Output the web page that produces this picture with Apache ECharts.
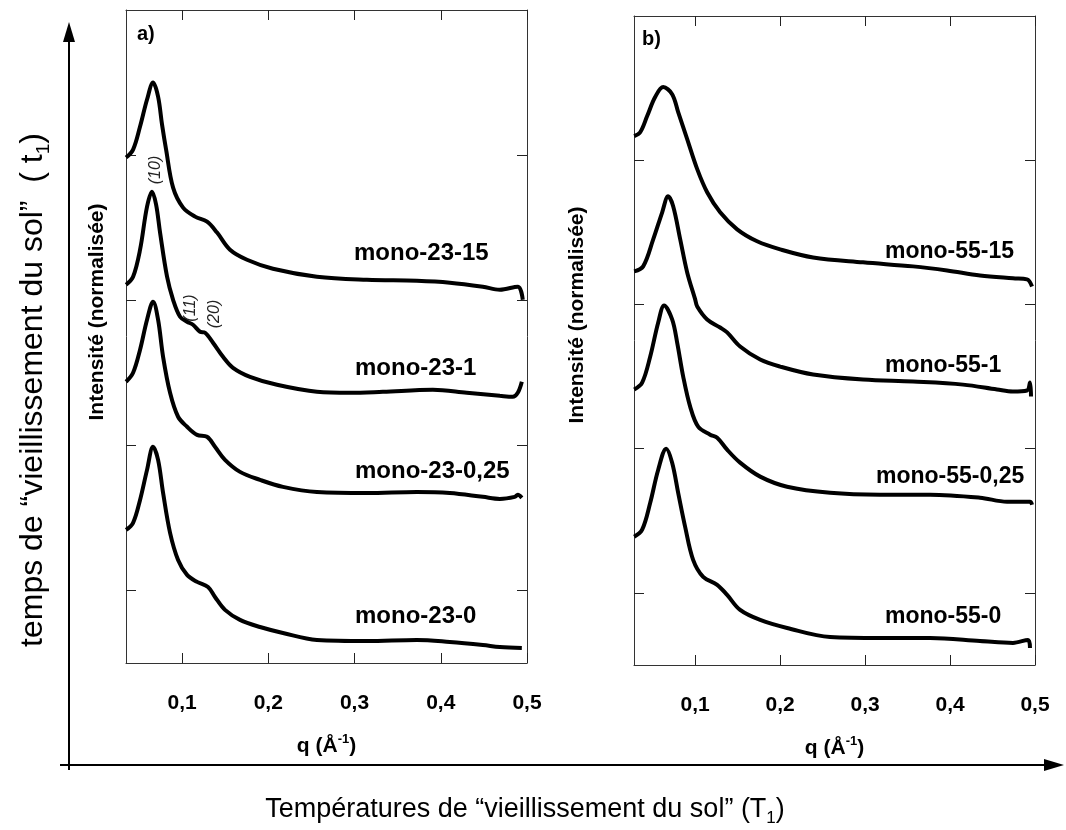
<!DOCTYPE html>
<html><head><meta charset="utf-8">
<script src="https://cdn.jsdelivr.net/npm/echarts@6/dist/echarts.min.js"></script>
<style>html,body{margin:0;padding:0;background:#fff}#c{width:1066px;height:830px}</style>
</head><body><div id="c"></div>
<script>
// ---- tick definitions ----
const xTicks = [0.1, 0.2, 0.3, 0.4, 0.5];
const xTickLabels = ['0,1', '0,2', '0,3', '0,4', '0,5'];
const yTicks = [0.5, 1.5, 2.5, 3.5];

// ---- panel a) (offset, normalised intensity vs q) ----
const namesA = ['mono-23-15', 'mono-23-1', 'mono-23-0,25', 'mono-23-0'];
const qA15 = [0.0351,0.0432,0.0513,0.0594,0.0664,0.0722,0.0768,0.0815,0.0896,0.1012,0.1151,0.129,0.1406,0.1556,0.1753,0.2054,0.2564,0.3144,0.3723,0.4105,0.4488,0.4685,0.4893,0.4951];
const iA15 = [3.483,3.538,3.697,3.883,4.0,3.903,3.710,3.538,3.276,3.138,3.076,3.041,2.966,2.848,2.779,2.717,2.662,2.641,2.634,2.621,2.593,2.572,2.593,2.503];
const qA1 = [0.0351,0.0432,0.0513,0.0594,0.0652,0.0699,0.0745,0.0826,0.0896,0.0977,0.1058,0.1127,0.1209,0.1267,0.1359,0.1475,0.1591,0.1788,0.2101,0.2564,0.2947,0.3329,0.3908,0.4302,0.4685,0.4835,0.4893,0.494];
const iA1 = [2.607,2.662,2.848,3.145,3.248,3.159,2.966,2.662,2.503,2.386,2.352,2.331,2.283,2.276,2.207,2.110,2.034,1.972,1.917,1.869,1.862,1.869,1.883,1.862,1.841,1.834,1.862,1.938];
const qA025 = [0.0351,0.0432,0.0513,0.0594,0.0664,0.0722,0.078,0.0861,0.0954,0.1058,0.1174,0.129,0.1382,0.1498,0.1672,0.1904,0.217,0.2564,0.3144,0.3723,0.4105,0.4488,0.4685,0.4858,0.4893,0.494];
const iA025 = [1.938,2.0,2.159,2.366,2.490,2.366,2.110,1.862,1.697,1.628,1.572,1.559,1.490,1.400,1.317,1.262,1.214,1.179,1.172,1.179,1.172,1.145,1.131,1.145,1.159,1.138];
const qA0 = [0.0351,0.0432,0.0513,0.0594,0.0664,0.0722,0.078,0.0861,0.0954,0.1058,0.1174,0.1301,0.1382,0.1498,0.1672,0.1904,0.217,0.2564,0.3144,0.3723,0.4105,0.4488,0.4685,0.494];
const iA0 = [0.917,0.966,1.124,1.331,1.490,1.400,1.172,0.897,0.710,0.607,0.559,0.524,0.455,0.366,0.297,0.248,0.207,0.159,0.152,0.159,0.145,0.124,0.110,0.103];

// ---- panel b) ----
const namesB = ['mono-55-15', 'mono-55-1', 'mono-55-0,25', 'mono-55-0'];
const qB15 = [0.0282,0.0353,0.0435,0.0529,0.0624,0.0729,0.08,0.0906,0.1024,0.1141,0.1294,0.1494,0.1729,0.2,0.2388,0.2976,0.3565,0.3965,0.4353,0.4741,0.4906,0.4965];
const iB15 = [3.667,3.694,3.806,3.938,4.007,3.958,3.833,3.646,3.438,3.278,3.139,3.021,2.938,2.882,2.826,2.792,2.764,2.736,2.701,2.681,2.674,2.625];
const qB1 = [0.0282,0.0388,0.0506,0.0612,0.0682,0.0741,0.0824,0.0906,0.1,0.1024,0.1141,0.1294,0.1376,0.1529,0.1765,0.2,0.2388,0.2976,0.3565,0.4153,0.4553,0.4741,0.4906,0.4941,0.4953];
const iB1 = [2.729,2.764,2.951,3.139,3.25,3.181,2.951,2.722,2.535,2.486,2.396,2.340,2.306,2.208,2.118,2.069,2.014,1.979,1.965,1.944,1.910,1.896,1.903,1.958,1.861];
const qB025 = [0.0282,0.0376,0.0471,0.0565,0.0635,0.0729,0.0788,0.0859,0.0941,0.1035,0.1176,0.1259,0.1376,0.1529,0.1765,0.2082,0.2588,0.3176,0.3765,0.4353,0.4671,0.4941,0.4965];
const iB025 = [1.910,1.958,2.139,2.375,2.493,2.396,2.236,2.0,1.792,1.653,1.597,1.576,1.493,1.403,1.306,1.236,1.194,1.181,1.181,1.160,1.132,1.132,1.111];
const qB0 = [0.0282,0.0376,0.0471,0.0565,0.0659,0.0729,0.08,0.0882,0.0976,0.1094,0.1259,0.1376,0.1529,0.1765,0.2082,0.2588,0.3176,0.3765,0.4353,0.4741,0.4918,0.4941];
const iB0 = [0.889,0.938,1.125,1.354,1.5,1.403,1.194,0.958,0.729,0.611,0.556,0.486,0.382,0.3125,0.257,0.194,0.1875,0.1875,0.167,0.153,0.174,0.118];

const zip = (q, v) => q.map((x, i) => [x, v[i]]);
const curvesA = [zip(qA15, iA15), zip(qA1, iA1), zip(qA025, iA025), zip(qA0, iA0)];
const curvesB = [zip(qB15, iB15), zip(qB1, iB1), zip(qB025, iB025), zip(qB0, iB0)];

const FONT = 'Liberation Sans, Arial, sans-serif';
const frame = { show: true, onZero: false, lineStyle: { color: '#333', width: 1 } };
const tickIn = { show: true, inside: true, length: 10, lineStyle: { color: '#222', width: 1 } };

function xAx(grid, min, pos, labels) {
  return {
    type: 'value', gridIndex: grid, position: pos, min: min, max: 0.5,
    axisLine: frame, splitLine: { show: false },
    axisTick: Object.assign({ customValues: xTicks }, tickIn),
    axisLabel: labels ? {
      show: true, customValues: xTicks, margin: 30,
      formatter: v => xTickLabels[xTicks.findIndex(t => Math.abs(t - v) < 1e-9)] || '',
      fontFamily: FONT, fontWeight: 'bold', fontSize: 21, color: '#000'
    } : { show: false },
    name: labels ? '{b|q (Å}{s|-1}{b|)}' : '',
    nameLocation: 'middle', nameGap: 70,
    nameTextStyle: { rich: {
      b: { fontFamily: FONT, fontWeight: 'bold', fontSize: 21, color: '#000', lineHeight: 26 },
      s: { fontFamily: FONT, fontWeight: 'bold', fontSize: 13, color: '#000', lineHeight: 12, verticalAlign: 'top' }
    } }
  };
}
function yAx(grid, pos) {
  return {
    type: 'value', gridIndex: grid, position: pos, min: 0, max: 4.5,
    axisLine: frame, splitLine: { show: false },
    axisTick: Object.assign({ customValues: yTicks }, tickIn),
    axisLabel: { show: false }
  };
}

const series = [];
curvesA.forEach((d, i) => series.push({
  name: namesA[i], type: 'line', xAxisIndex: 0, yAxisIndex: 0, data: d,
  showSymbol: false, smooth: 0.35, lineStyle: { color: '#000', width: 4 }, silent: true
}));
curvesB.forEach((d, i) => series.push({
  name: namesB[i], type: 'line', xAxisIndex: 2, yAxisIndex: 2, data: d,
  showSymbol: false, smooth: 0.35, lineStyle: { color: '#000', width: 4 }, silent: true
}));

const labelPosA = [[354, 253], [355, 368], [355, 471], [355, 616]];
const labelPosB = [[885, 252], [885, 366], [876, 477], [885, 617]];

const graphics = [];
namesA.forEach((n, i) => graphics.push({ type: 'text', x: labelPosA[i][0], y: labelPosA[i][1],
  style: { text: n, font: 'bold 24px ' + FONT, fill: '#000', textVerticalAlign: 'middle' } }));
namesB.forEach((n, i) => graphics.push({ type: 'text', x: labelPosB[i][0], y: labelPosB[i][1],
  style: { text: n, font: 'bold 23px ' + FONT, fill: '#000', textVerticalAlign: 'middle' } }));

// panel letters
graphics.push({ type: 'text', x: 137, y: 34, style: { text: 'a)', font: 'bold 20px ' + FONT, fill: '#000', textVerticalAlign: 'middle' } });
graphics.push({ type: 'text', x: 642, y: 39, style: { text: 'b)', font: 'bold 20px ' + FONT, fill: '#000', textVerticalAlign: 'middle' } });

// Miller indices
const millers = [['(10)', 156, 170], ['(11)', 191, 308], ['(20)', 215, 314]];
millers.forEach(m => graphics.push({ type: 'text', x: m[1], y: m[2], rotation: Math.PI / 2,
  style: { text: m[0], font: 'italic 16px ' + FONT, fill: '#222', textAlign: 'center', textVerticalAlign: 'middle' } }));

// y axis titles
[[97, 312], [577, 315]].forEach(p => graphics.push({ type: 'text', x: p[0], y: p[1], rotation: Math.PI / 2,
  style: { text: 'Intensité (normalisée)', font: 'bold 21px ' + FONT, fill: '#000', textAlign: 'center', textVerticalAlign: 'middle' } }));

// big arrows
graphics.push({ type: 'line', shape: { x1: 69, y1: 770, x2: 69, y2: 38 }, style: { stroke: '#000', lineWidth: 2 } });
graphics.push({ type: 'polygon', shape: { points: [[69, 22], [63, 42], [75, 42]] }, style: { fill: '#000' } });
graphics.push({ type: 'line', shape: { x1: 60, y1: 765, x2: 1048, y2: 765 }, style: { stroke: '#000', lineWidth: 2 } });
graphics.push({ type: 'polygon', shape: { points: [[1064, 765], [1044, 759], [1044, 771]] }, style: { fill: '#000' } });

const vRich = {
  n: { fontFamily: FONT, fontSize: 32, color: '#000', lineHeight: 40 },
  sub: { fontFamily: FONT, fontSize: 19, color: '#000', lineHeight: 26, verticalAlign: 'bottom' }
};
const hRich = {
  n: { fontFamily: FONT, fontSize: 27, color: '#000', lineHeight: 34 },
  sub: { fontFamily: FONT, fontSize: 17, color: '#000', lineHeight: 22, verticalAlign: 'bottom' }
};
graphics.push({ type: 'text', x: 33, y: 390, rotation: Math.PI / 2,
  style: { text: '{n|temps de “vieillissement du sol”  ( t}{sub|1}{n|)}', rich: vRich, textAlign: 'center', textVerticalAlign: 'middle' } });
graphics.push({ type: 'text', x: 525, y: 810,
  style: { text: '{n|Températures de “vieillissement du sol” (T}{sub|1}{n|)}', rich: hRich, textAlign: 'center', textVerticalAlign: 'middle' } });

const chart = echarts.init(document.getElementById('c'), null, { renderer: 'canvas' });
chart.setOption({
  backgroundColor: '#fff',
  animation: false,
  grid: [
    { left: 126, right: 1066 - 527, top: 10, bottom: 830 - 663 },
    { left: 634, right: 1066 - 1035, top: 16, bottom: 830 - 665 }
  ],
  xAxis: [xAx(0, 0.035, 'bottom', true), xAx(0, 0.035, 'top', false), xAx(1, 0.028, 'bottom', true), xAx(1, 0.028, 'top', false)],
  yAxis: [yAx(0, 'left'), yAx(0, 'right'), yAx(1, 'left'), yAx(1, 'right')],
  series: series,
  graphic: graphics
});
</script></body></html>
